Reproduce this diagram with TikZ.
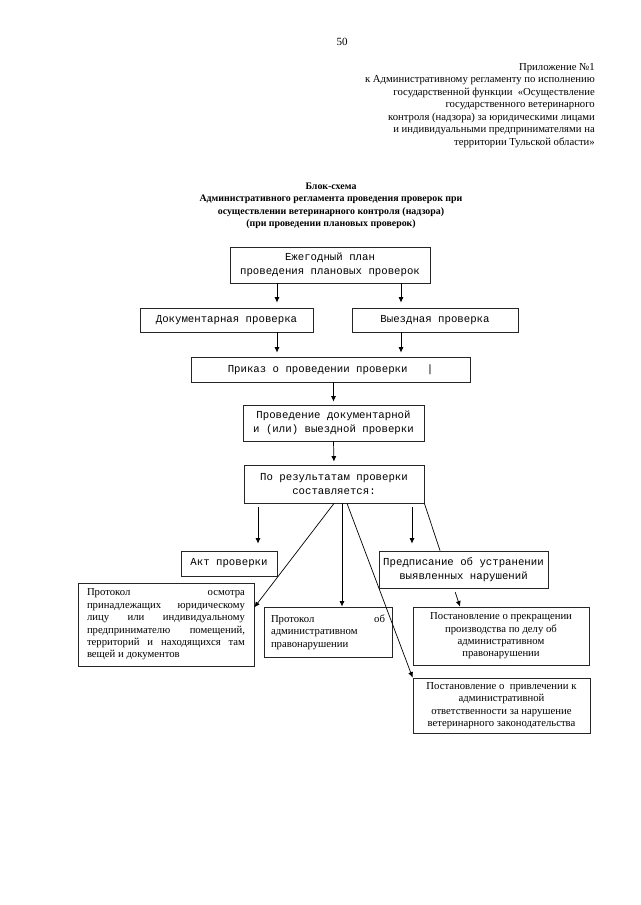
\documentclass[tikz,border=0pt]{standalone}
\usepackage{fontspec}
\setmainfont{Liberation Serif}
\setmonofont{Liberation Mono}
\usetikzlibrary{arrows.meta}

\begin{document}
\begin{tikzpicture}[x=1pt, y=-1pt,
		box/.style={draw=black!85, line width=0.8pt, inner sep=0pt, anchor=center},
		monobox/.style={box, align=center, font=\ttfamily\fontsize{10.7}{14}\selectfont},
		serifbox/.style={box, align=center, font=\fontsize{10.7}{12.4}\selectfont},
		arr/.style={-{Latex[length=5.5pt,width=5pt]}, line width=0.7pt},
		link/.style={line width=0.7pt}]
		%%%%% START %%%%%
		
		\useasboundingbox (0,0) rectangle (640,905);
		
		\node[font=\fontsize{11}{13}\selectfont] (nomer) at (342,42) {50};
		\node[anchor=north east, align=right, inner sep=0pt, font=\fontsize{10.7}{12.5}\selectfont] (prilozh) at (595,63)
		{Приложение №1\\к Административному регламенту по исполнению\\государственной функции\ \ «Осуществление\\государственного ветеринарного\\контроля (надзора) за юридическими лицами\\и индивидуальными предпринимателями на\\территории Тульской области»};
		
		\node[align=center, font=\bfseries\fontsize{9.9}{12.4}\selectfont] (zagolovok) at (331,206)
		{Блок-схема\\Административного регламента проведения проверок при\\осуществлении ветеринарного контроля (надзора)\\(при проведении плановых проверок)};
		
		% boxes
		\node[monobox, minimum width=200pt, minimum height=36pt] (plan) at (330,265) {Ежегодный план\\проведения плановых проверок};
		\node[monobox, minimum width=173pt, minimum height=24pt] (doc) at (226.5,320) {Документарная проверка};
		\node[monobox, minimum width=166pt, minimum height=24pt] (vyezd) at (435,320) {Выездная проверка};
		\node[monobox, minimum width=279pt, minimum height=25pt] (prikaz) at (330.5,369.5) {Приказ о проведении проверки\ \ \ |};
		\node[monobox, minimum width=181pt, minimum height=36pt] (proved) at (333.5,423) {Проведение документарной\\и (или) выездной проверки};
		\node[monobox, minimum width=180pt, minimum height=38pt] (itog) at (334,484) {По результатам проверки\\составляется:};
		\node[monobox, minimum width=96pt, minimum height=25pt] (akt) at (229,563.5) {Акт проверки};
		\node[monobox, minimum width=169pt, minimum height=37pt] (predpis) at (463.5,569.5) {Предписание об устранении\\выявленных нарушений};
		
		\node[serifbox, align=left, minimum width=176pt, minimum height=83pt] (osmotr) at (166,624.5)
		{\makebox[158pt][s]{Протокол осмотра}\\
			\makebox[158pt][s]{принадлежащих юридическому}\\
			\makebox[158pt][s]{лицу или индивидуальному}\\
			\makebox[158pt][s]{предпринимателю помещений,}\\
			\makebox[158pt][s]{территорий и находящихся там}\\
			вещей и документов};
		\node[serifbox, align=left, minimum width=128pt, minimum height=50pt] (protokol) at (328,632)
		{\makebox[114pt][s]{Протокол об}\\административном\\правонарушении};
		\node[serifbox, minimum width=176pt, minimum height=58pt] (prekr) at (501,636)
		{Постановление о прекращении\\производства по делу об\\административном\\правонарушении};
		\node[serifbox, minimum width=177pt, minimum height=55pt] (privl) at (501.5,705.5)
		{Постановление о\ \ привлечении к\\административной\\ответственности за нарушение\\ветеринарного законодательства};
		
		% arrows
		\coordinate (xa) at (277,0);
		\coordinate (xb) at (401,0);
		\coordinate (xc) at (258,0);
		\coordinate (xd) at (342,0);
		\coordinate (xe) at (347,0);
		\coordinate (xf) at (412,0);
		\coordinate (xg) at (440,0);
		\coordinate (xh) at (454,0);
		\coordinate (xi) at (460,0);
		
		\draw[arr, shorten >=5pt] (plan.south -| xa) -- (doc.north -| xa);
		\draw[arr, shorten >=5pt] (plan.south -| xb) -- (vyezd.north -| xb);
		\draw[arr, shorten >=4pt] (doc.south -| xa) -- (prikaz.north -| xa);
		\draw[arr, shorten >=4pt] (vyezd.south -| xb) -- (prikaz.north -| xb);
		\draw[arr, shorten >=3pt] (prikaz.south -| proved.north) -- (proved.north);
		\draw[arr, shorten >=3pt] (proved.south) -- (itog.north);
		
		\draw[arr, shorten <=4pt, shorten >=7pt] (itog.south -| xc) -- (akt.north -| xc);
		\draw[arr] (itog.south) -- (osmotr.11);
		\draw[arr] (itog.south -| xd) -- (protokol.north -| xd);
		\draw[arr] (itog.south -| xe) -- (privl.north west);
		\draw[arr, shorten <=4pt, shorten >=7pt] (itog.south -| xf) -- (predpis.north -| xf);
		\draw[link] (itog.south east) -- (predpis.north -| xg);
		\draw[arr, shorten <=4pt] (predpis.south -| xh) -- (prekr.north -| xi);
		
		%%%%% END %%%%%
	\end{tikzpicture}
\end{document}
